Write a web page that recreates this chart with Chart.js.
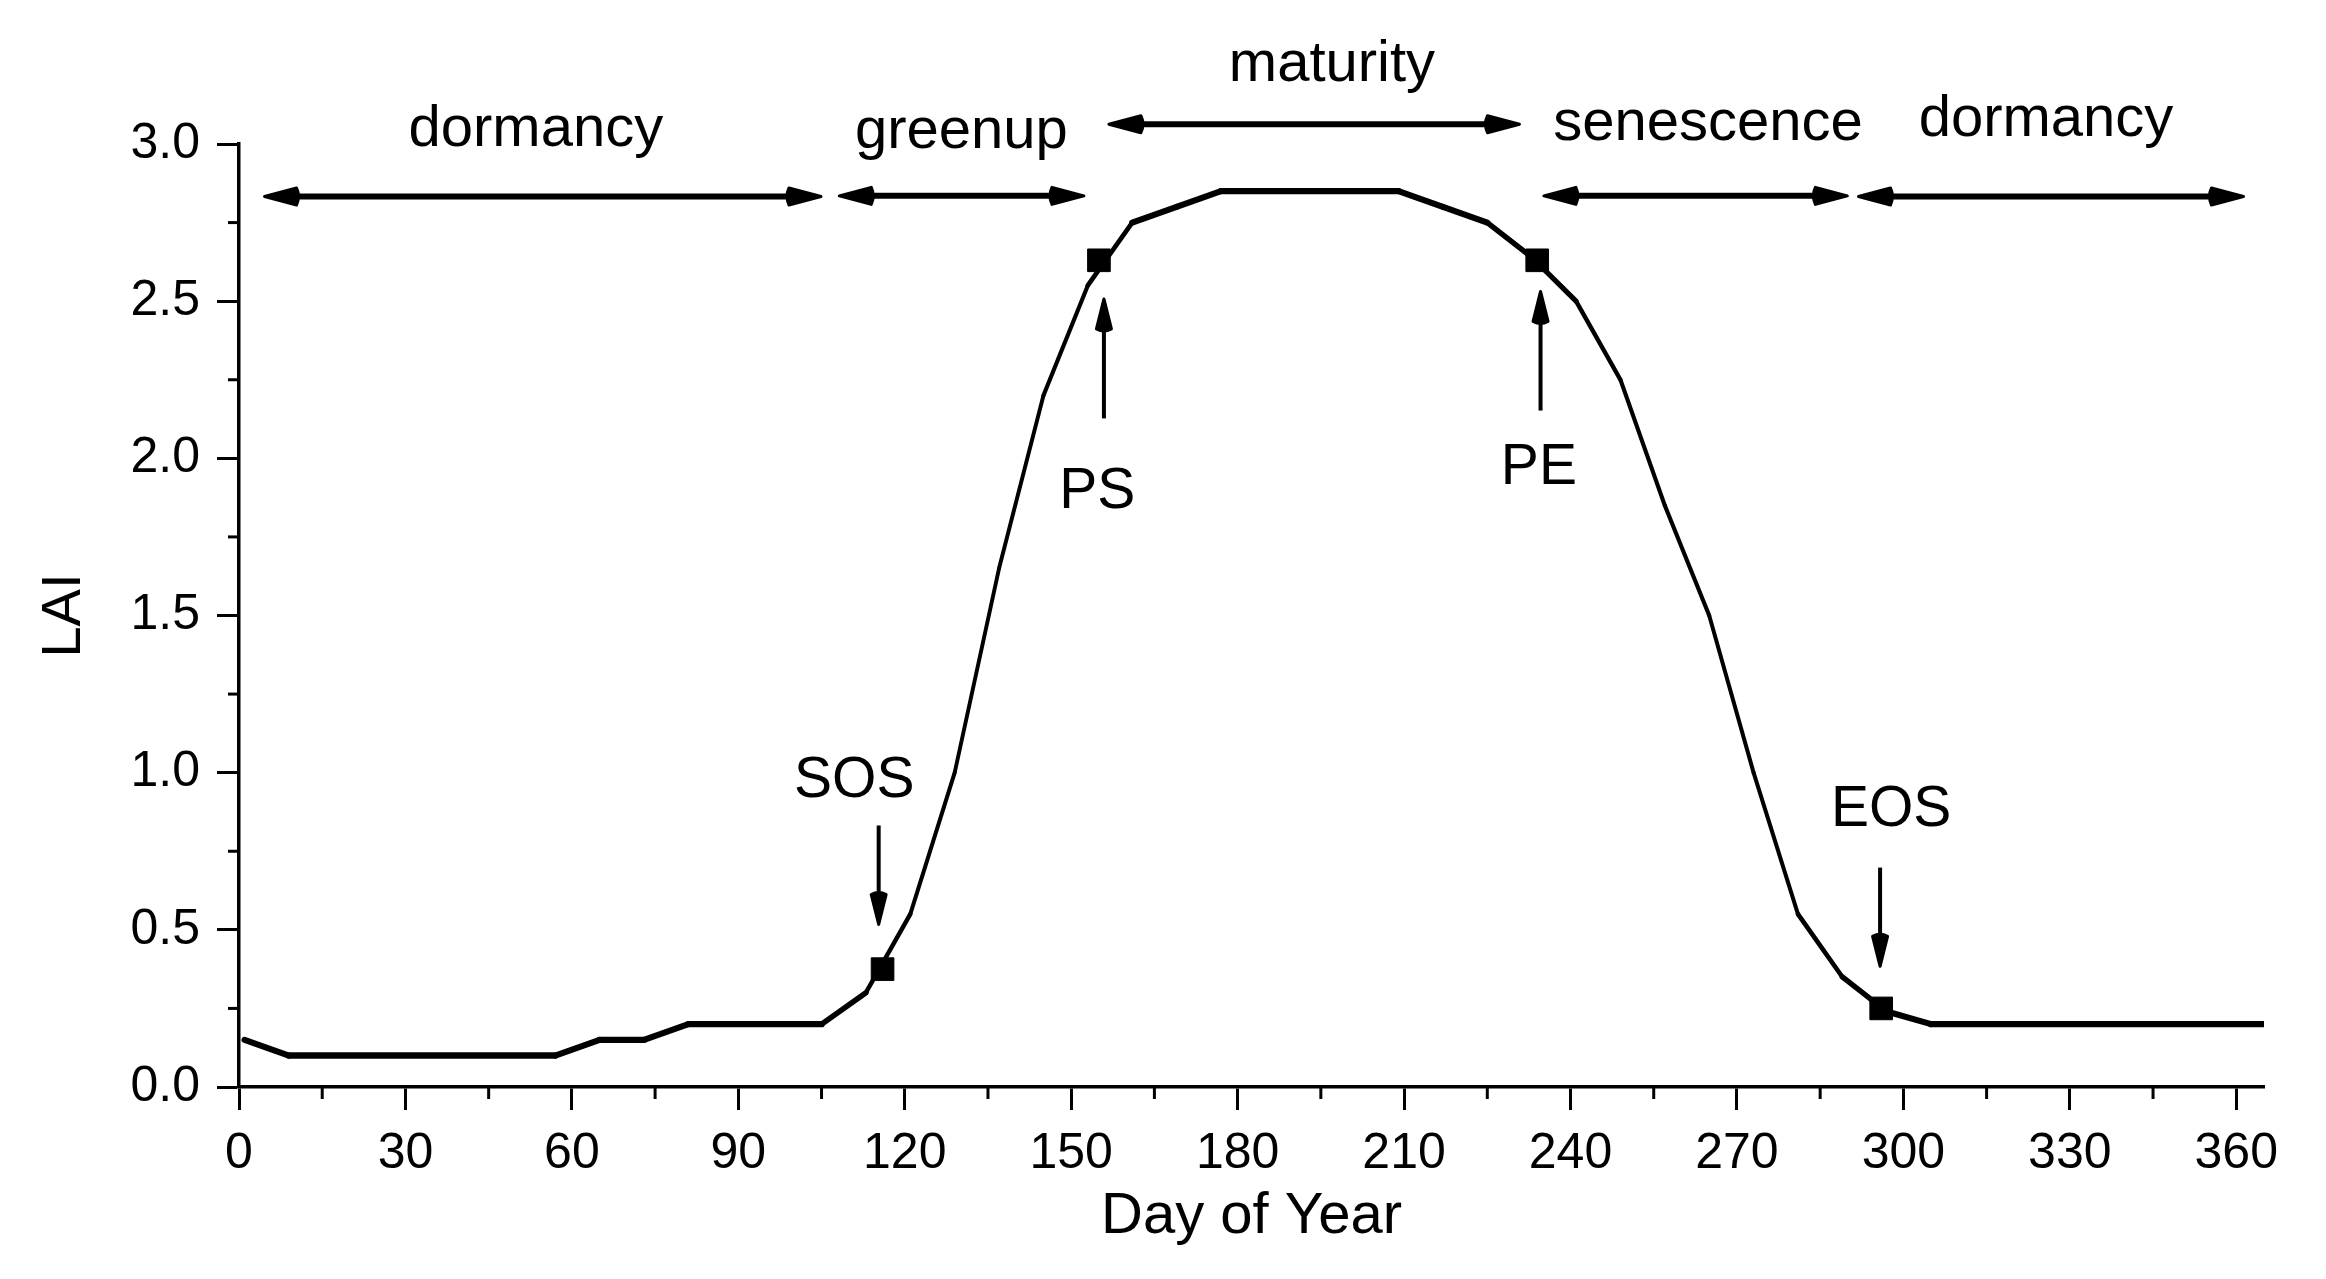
<!DOCTYPE html>
<html><head><meta charset="utf-8">
<script src="https://cdn.jsdelivr.net/npm/chart.js@4.4.0/dist/chart.umd.min.js"></script>
<style>html,body{margin:0;padding:0;background:#fff;overflow:hidden}canvas{display:block}</style>
</head><body>
<canvas id="c" width="2326" height="1279" style="width:2326px;height:1279px"></canvas>
<script>
// ---- data ----
const days = [1,9,17,25,33,41,49,57,65,73,81,89,97,105,113,121,129,137,145,153,161,169,177,185,193,201,209,217,225,233,241,249,257,265,273,281,289,297,305,313,321,329,337,345,353,361,365];
const lai  = [0.15,0.1,0.1,0.1,0.1,0.1,0.1,0.1,0.15,0.15,0.2,0.2,0.2,0.2,0.3,0.55,1.0,1.65,2.2,2.55,2.75,2.8,2.85,2.85,2.85,2.85,2.85,2.8,2.75,2.64,2.5,2.25,1.85,1.5,1.0,0.55,0.35,0.24,0.2,0.2,0.2,0.2,0.2,0.2,0.2,0.2,0.2];

const markerNames = ['SOS','PS','PE','EOS'];
const markerDays  = [116,155,234,296];
const markerLai   = [0.375,2.63,2.63,0.25];
const labelDays   = [110.9,154.7,234.3,297.8];
const labelLai    = [0.923,1.842,1.917,0.830];
const arrowDays   = [115.3,155.9,234.6,295.8];
const arrowFrom   = [0.832,2.127,2.152,0.698];
const arrowTo     = [0.517,2.507,2.531,0.384];

const phaseNames     = ['dormancy','greenup','maturity','senescence','dormancy'];
const phaseLabelDays = [53.5,130.2,197,264.8,325.7];
const phaseLabelLai  = [2.995,2.988,3.199,3.014,3.024];
const phaseStart     = [4.6,108.2,156.8,235.2,291.9];
const phaseEnd       = [104.9,152.3,230.8,289.9,361.3];
const phaseArrowLai  = [2.833,2.835,3.063,2.835,2.833];

const xTickValues = [0,30,60,90,120,150,180,210,240,270,300,330,360];
const yTickValues = [0,0.5,1.0,1.5,2.0,2.5,3.0];
const yTickLabels = ['0.0','0.5','1.0','1.5','2.0','2.5','3.0'];
const xMinor = [15,45,75,105,135,165,195,225,255,285,315,345];
const yMinor = [0.25,0.75,1.25,1.75,2.25,2.75];

const FONT = '"Liberation Sans", Arial, sans-serif';

function head(ctx, tx, ty, dx, dy, L, W){
  const bx = tx - dx*L, by = ty - dy*L;
  const nx = -dy, ny = dx;
  ctx.save();
  ctx.lineJoin = 'round';
  ctx.lineWidth = 3;
  ctx.beginPath();
  ctx.moveTo(tx, ty);
  ctx.lineTo(bx + nx*W, by + ny*W);
  ctx.quadraticCurveTo(bx - dx*4, by - dy*4, bx - nx*W, by - ny*W);
  ctx.closePath();
  ctx.fill();
  ctx.stroke();
  ctx.restore();
}

const overlay = {
  id: 'overlay',
  afterDraw(chart){
    const ctx = chart.ctx, xs = chart.scales.x, ys = chart.scales.y;
    const ca = chart.chartArea;
    ctx.save();
    ctx.fillStyle = '#000'; ctx.strokeStyle = '#000';
    // minor ticks
    ctx.lineWidth = 3;
    xMinor.forEach(v => { const px = xs.getPixelForValue(v); ctx.beginPath(); ctx.moveTo(px, ca.bottom); ctx.lineTo(px, ca.bottom + 12); ctx.stroke(); });
    yMinor.forEach(v => { const py = ys.getPixelForValue(v); ctx.beginPath(); ctx.moveTo(ca.left, py); ctx.lineTo(ca.left - 11, py); ctx.stroke(); });
    // phase arrows
    const L = 32, W = 8.5;
    phaseNames.forEach((n, i) => {
      const x1 = xs.getPixelForValue(phaseStart[i]), x2 = xs.getPixelForValue(phaseEnd[i]);
      const y = ys.getPixelForValue(phaseArrowLai[i]);
      ctx.lineWidth = 6;
      ctx.beginPath(); ctx.moveTo(x1 + L*0.8, y); ctx.lineTo(x2 - L*0.8, y); ctx.stroke();
      head(ctx, x1, y, -1, 0, L, W);
      head(ctx, x2, y, 1, 0, L, W);
    });
    // phase labels
    ctx.font = '58px ' + FONT;
    ctx.textAlign = 'center'; ctx.textBaseline = 'alphabetic';
    phaseNames.forEach((n, i) => {
      ctx.fillText(n, xs.getPixelForValue(phaseLabelDays[i]), ys.getPixelForValue(phaseLabelLai[i]));
    });
    // point labels and vertical arrows
    ctx.font = '57px ' + FONT;
    markerNames.forEach((n, i) => {
      ctx.fillText(n, xs.getPixelForValue(labelDays[i]), ys.getPixelForValue(labelLai[i]));
      const ax = xs.getPixelForValue(arrowDays[i]);
      const y1 = ys.getPixelForValue(arrowFrom[i]), y2 = ys.getPixelForValue(arrowTo[i]);
      const dir = y2 > y1 ? 1 : -1;
      ctx.lineWidth = 4;
      ctx.beginPath(); ctx.moveTo(ax, y1); ctx.lineTo(ax, y2 - dir*30); ctx.stroke();
      head(ctx, ax, y2, 0, dir, 30, 7.5);
    });
    ctx.restore();
  }
};

// thicker where the curve is flat, thinner where it is steep (as in the reference image)
function segWidth(c){
  const dx = c.p1.x - c.p0.x, dy = c.p1.y - c.p0.y;
  const len = Math.hypot(dx, dy) || 1;
  const cos = Math.abs(dx) / len;
  return 3.8 + 2.6 * cos * cos;
}

new Chart(document.getElementById('c'), {
  type: 'scatter',
  data: {
    datasets: [
      {
        data: days.map((d, i) => ({x: d, y: lai[i]})),
        showLine: true, borderColor: '#000', borderWidth: 5, pointRadius: 0, tension: 0,
        borderJoinStyle: 'round', borderCapStyle: 'round',
        segment: { borderWidth: segWidth }
      },
      {
        data: markerDays.map((d, i) => ({x: d, y: markerLai[i]})),
        showLine: false, pointStyle: 'rect', pointRadius: 16, backgroundColor: '#000', borderColor: '#000', borderWidth: 1,
        clip: false
      }
    ]
  },
  options: {
    responsive: false, animation: false, devicePixelRatio: 1,
    layout: { padding: { left: 0, top: 144, right: 62, bottom: 0 } },
    plugins: { legend: { display: false }, tooltip: { enabled: false } },
    scales: {
      x: {
        type: 'linear', min: 0, max: 365,
        afterFit: s => { s.height = 192; },
        afterBuildTicks: s => { s.ticks = xTickValues.map(v => ({value: v})); },
        ticks: { font: { family: FONT, size: 50 }, color: '#000', padding: 14, maxRotation: 0, autoSkip: false,
                 callback: v => String(v) },
        grid: { drawOnChartArea: false, drawTicks: true, tickLength: 23, tickWidth: 3, tickColor: '#000' },
        border: { color: '#000', width: 3.5 },
        title: { display: true, text: 'Day of Year', color: '#000', font: { family: FONT, size: 58 }, padding: { top: 0, bottom: 27 } }
      },
      y: {
        type: 'linear', min: 0, max: 3,
        afterFit: s => { s.width = 239; },
        afterBuildTicks: s => { s.ticks = yTickValues.map(v => ({value: v})); },
        ticks: { font: { family: FONT, size: 50 }, color: '#000', padding: 17, autoSkip: false,
                 callback: (v) => { const k = yTickValues.indexOf(v); return k >= 0 ? yTickLabels[k] : ''; } },
        grid: { drawOnChartArea: false, drawTicks: true, tickLength: 22, tickWidth: 3, tickColor: '#000' },
        border: { color: '#000', width: 3.5 },
        title: { display: true, text: 'LAI', color: '#000', font: { family: FONT, size: 56 }, padding: { top: 31, bottom: 0 } }
      }
    }
  },
  plugins: [overlay]
});
</script>
</body></html>
